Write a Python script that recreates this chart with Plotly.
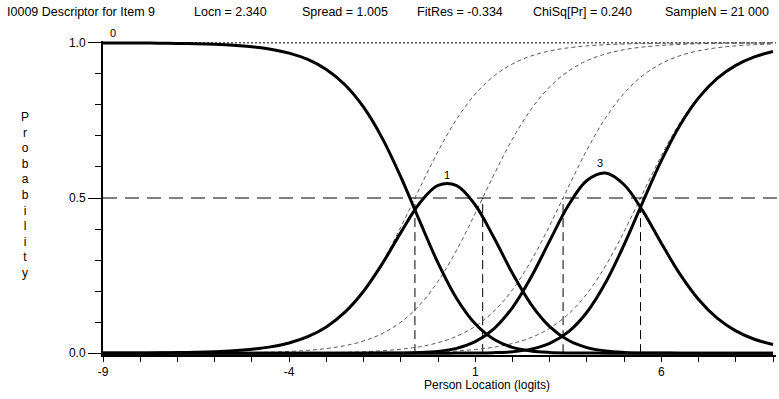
import plotly.graph_objects as go

# ---- data ----
theta = [-9.0, -8.5, -8.0, -7.5, -7.0, -6.5, -6.0, -5.5, -5.0, -4.5, -4.0, -3.5,
         -3.0, -2.5, -2.0, -1.5, -1.0, -0.5, 0.0, 0.5, 1.0, 1.5, 2.0, 2.5, 3.0,
         3.5, 4.0, 4.5, 5.0, 5.5, 6.0, 6.5, 7.0, 7.5, 8.0, 8.5, 9.0]

# category probability curves (thick)
cat0 = [0.9998, 0.9996, 0.9994, 0.9990, 0.9983, 0.9972, 0.9954, 0.9925, 0.9876, 0.9797,
        0.9669, 0.9464, 0.9141, 0.8648, 0.7925, 0.6931, 0.5680, 0.4277, 0.2908, 0.1762,
        0.0945, 0.0447, 0.0187, 0.0070, 0.0023, 0.0007, 0.0002, 0, 0, 0, 0, 0, 0, 0, 0, 0, 0]
cat1 = [0.0002, 0.0004, 0.0006, 0.0010, 0.0017, 0.0028, 0.0046, 0.0075, 0.0124, 0.0202,
        0.0329, 0.0531, 0.0846, 0.1320, 0.1994, 0.2875, 0.3884, 0.4823, 0.5406, 0.5401,
        0.4774, 0.3726, 0.2572, 0.1575, 0.0857, 0.0415, 0.0178, 0.0069, 0.0024, 0.0007,
        0.0002, 0, 0, 0, 0, 0, 0]
cat3 = [0, 0, 0, 0, 0, 0, 0, 0, 0, 0, 0, 0, 0, 0,
        0.0000, 0.0002, 0.0006, 0.0019, 0.0057, 0.0154, 0.0369, 0.0783, 0.1469, 0.2446,
        0.3618, 0.4758, 0.5566, 0.5806, 0.5428, 0.4585, 0.3543, 0.2545, 0.1729, 0.1128,
        0.0717, 0.0448, 0.0276]
cat4 = [0, 0, 0, 0, 0, 0, 0, 0, 0, 0, 0, 0, 0, 0, 0, 0, 0, 0,
        0.0000, 0.0001, 0.0004, 0.0015, 0.0047, 0.0129, 0.0315, 0.0684, 0.1319, 0.2268,
        0.3496, 0.4868, 0.6202, 0.7345, 0.8226, 0.8853, 0.9276, 0.9550, 0.9722]

# threshold probability curves (thin dashed)
thr1 = [0.0002, 0.0004, 0.0006, 0.0010, 0.0017, 0.0028, 0.0046, 0.0075, 0.0124, 0.0202,
        0.0329, 0.0532, 0.0847, 0.1324, 0.2010, 0.2932, 0.4061, 0.5300, 0.6502, 0.7540,
        0.8348, 0.8928, 0.9321, 0.9577, 0.9739, 0.9840, 0.9902, 0.9941, 0.9964, 0.9978,
        0.9987, 0.9992, 0.9995, 0.9997, 0.9998, 0.9999, 0.9999]
thr2 = [0.0000, 0.0001, 0.0001, 0.0002, 0.0003, 0.0005, 0.0007, 0.0012, 0.0020, 0.0033,
        0.0055, 0.0090, 0.0148, 0.0241, 0.0392, 0.0630, 0.0998, 0.1545, 0.2315, 0.3318,
        0.4502, 0.5744, 0.6900, 0.7858, 0.8581, 0.9089, 0.9427, 0.9644, 0.9781, 0.9866,
        0.9918, 0.9950, 0.9970, 0.9982, 0.9989, 0.9993, 0.9996]
thr3 = [0, 0, 0, 0, 0, 0.0001, 0.0001, 0.0001, 0.0002, 0.0004, 0.0006, 0.0010, 0.0017,
        0.0028, 0.0047, 0.0077, 0.0126, 0.0206, 0.0336, 0.0542, 0.0863, 0.1347, 0.2042,
        0.2973, 0.4110, 0.5349, 0.6548, 0.7577, 0.8375, 0.8947, 0.9334, 0.9585, 0.9744,
        0.9843, 0.9904, 0.9942, 0.9965]
thr4 = [0, 0, 0, 0, 0, 0, 0, 0, 0, 0, 0.0001, 0.0001, 0.0002, 0.0004, 0.0006, 0.0010,
        0.0016, 0.0026, 0.0043, 0.0071, 0.0117, 0.0191, 0.0311, 0.0502, 0.0802, 0.1256,
        0.1915, 0.2809, 0.3917, 0.5150, 0.6365, 0.7427, 0.8264, 0.8869, 0.9282, 0.9552,
        0.9724]

thresholds = [-0.62, 1.20, 3.36, 5.44]

cat_labels = ["0", "1", "3"]
cat_label_x = [-8.72, 0.23, 4.36]
cat_label_y = [1.0, 0.548, 0.581]
cat_label_shift = [2, 0, 2]

title_parts = ["I0009 Descriptor for Item 9", "Locn = 2.340", "Spread = 1.005",
               "FitRes = -0.334", "ChiSq[Pr] = 0.240", "SampleN = 21 000"]
title_left_px = [5, 192, 300, 415, 531, 663]

x_tick_vals = [-9, -4, 1, 6]
y_tick_vals = [0.0, 0.5, 1.0]
y_tick_text = ["0.0", "0.5", "1.0"]

for arr in (cat0, cat1, cat3, cat4, thr1, thr2, thr3, thr4):
    assert len(arr) == len(theta)

# ---- layout geometry ----
W, H = 779, 399
ML, MR, MT, MB = 103.3, 2.8, 40.84, 43.84
PW = W - ML - MR
PH = H - MT - MB


def px_x(px):
    return (px - ML) / PW


def px_y(py):
    return (H - MB - py) / PH


FONT = "Arial, Liberation Sans, sans-serif"

fig = go.Figure()

for thr in (thr1, thr2, thr3, thr4):
    fig.add_trace(go.Scatter(x=theta, y=thr, mode="lines", line_shape="spline",
                             line=dict(color="#5a5a5a", width=1, dash="4px,3px"),
                             hoverinfo="skip", showlegend=False))

for cat in (cat0, cat1, cat3, cat4):
    fig.add_trace(go.Scatter(x=theta, y=cat, mode="lines", line_shape="spline",
                             line=dict(color="black", width=3),
                             hoverinfo="skip", showlegend=False))

shapes = []
# reference lines at 1.0 and 0.5
shapes.append(dict(type="line", xref="paper", yref="y", x0=0, x1=1.0, y0=1.0, y1=1.0,
                   line=dict(color="black", width=1, dash="2px,2px"), layer="below"))
shapes.append(dict(type="line", xref="paper", yref="y", x0=0, x1=1.004, y0=0.5, y1=0.5,
                   line=dict(color="black", width=1, dash="14px,8px"), layer="below"))
for t in thresholds:
    shapes.append(dict(type="line", xref="x", yref="y", x0=t, x1=t, y0=0, y1=0.5,
                       line=dict(color="black", width=1, dash="9px,5px"), layer="below"))

annotations = []
for txt, lx in zip(title_parts, title_left_px):
    annotations.append(dict(text=txt, xref="paper", yref="paper", x=px_x(lx), y=px_y(12),
                            xanchor="left", yanchor="middle", showarrow=False,
                            font=dict(family=FONT, size=12.5, color="black")))
for txt, lx, ly, sh in zip(cat_labels, cat_label_x, cat_label_y, cat_label_shift):
    annotations.append(dict(text=txt, x=lx, y=ly, xref="x", yref="y", xanchor="center",
                            yanchor="bottom", yshift=sh, showarrow=False,
                            font=dict(family=FONT, size=11, color="black")))
annotations.append(dict(text="<br>".join(list("Probability")), xref="paper", yref="paper",
                        x=px_x(25), y=px_y(195), xanchor="center", yanchor="middle",
                        showarrow=False, align="center",
                        font=dict(family=FONT, size=12, color="black")))
annotations.append(dict(text="Person Location (logits)", xref="paper", yref="paper",
                        x=px_x(487), y=px_y(385), xanchor="center", yanchor="middle",
                        showarrow=False, font=dict(family=FONT, size=12, color="black")))

fig.update_layout(
    width=W, height=H,
    margin=dict(l=ML, r=MR, t=MT, b=MB, pad=0),
    paper_bgcolor="white", plot_bgcolor="white",
    font=dict(family=FONT, size=12, color="black"),
    shapes=shapes, annotations=annotations,
    showlegend=False,
    xaxis=dict(range=[-9, 9.08], showgrid=False, zeroline=False,
               showline=True, linecolor="black", linewidth=2,
               tickmode="array", tickvals=x_tick_vals, ticktext=[str(v) for v in x_tick_vals],
               ticks="outside", ticklen=5, tickwidth=1, tickcolor="black",
               tickfont=dict(family=FONT, size=12, color="black"),
               minor=dict(tick0=-9, dtick=1, ticks="outside", ticklen=5, tickwidth=1,
                          tickcolor="black"),
               fixedrange=True),
    yaxis=dict(range=[-0.006, 1.006], showgrid=False, zeroline=False,
               showline=True, linecolor="black", linewidth=2,
               tickmode="array", tickvals=y_tick_vals, ticktext=y_tick_text,
               ticks="outside", ticklen=13, tickwidth=1, tickcolor="black",
               tickfont=dict(family=FONT, size=12, color="black"),
               minor=dict(tick0=0, dtick=0.1, ticks="outside", ticklen=6, tickwidth=1,
                          tickcolor="black"),
               fixedrange=True),
)

fig.write_html("out.html")
